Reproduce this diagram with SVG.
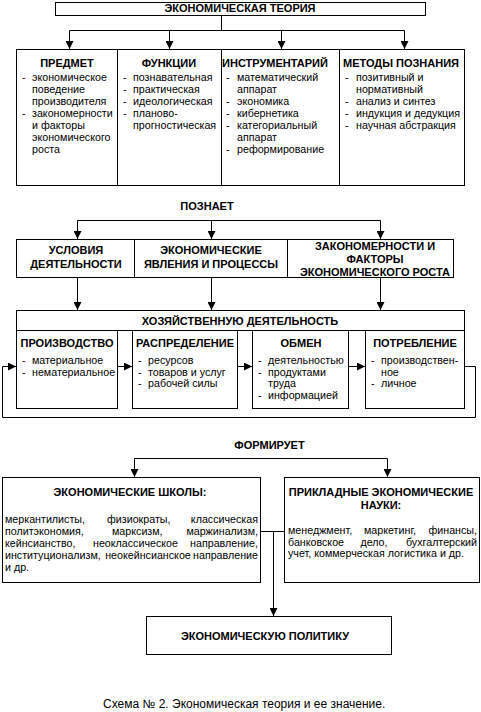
<svg xmlns="http://www.w3.org/2000/svg" width="481" height="712" viewBox="0 0 481 712">
<style>
  .box { fill: #fff; stroke: #000; stroke-width: 1; }
  .ln { fill: none; stroke: #000; stroke-width: 1; }
  .arr { fill: none; stroke: #000; stroke-width: 1; marker-end: url(#ah); }
  text { font-family: "Liberation Sans", Arial, sans-serif; font-size: 10.7px; fill: #000; }
  .h { font-weight: bold; font-size: 11px; text-anchor: middle; }
  .r { text-anchor: end; }
  .m { text-anchor: middle; }
  .cap { font-size: 12px; }
</style>
<defs>
  <marker id="ah" viewBox="0 0 8 8" refX="8" refY="4" markerWidth="8" markerHeight="8" markerUnits="userSpaceOnUse" orient="auto">
    <path d="M0,0 L8,4 L0,8 z" fill="#000"/>
  </marker>
</defs>
<rect width="481" height="712" fill="#fff"/>

<g id="connectors">
  <path class="ln" d="M221.5 15.5 V30.5 M69.5 30.5 H404.5"/>
  <path class="arr" d="M69.5 30.5 V49"/>
  <path class="arr" d="M169.5 30.5 V49"/>
  <path class="arr" d="M281.5 30.5 V49"/>
  <path class="arr" d="M404.5 30.5 V49"/>
  <path class="ln" d="M77.5 220.5 H380.5"/>
  <path class="arr" d="M77.5 220.5 V239"/>
  <path class="arr" d="M211.5 220.5 V239"/>
  <path class="arr" d="M380.5 220.5 V239"/>
  <path class="arr" d="M77.5 277.5 V310"/>
  <path class="arr" d="M211.5 277.5 V310"/>
  <path class="arr" d="M380.5 277.5 V310"/>
  <path class="arr" d="M117.5 366.5 H132"/>
  <path class="arr" d="M237.5 366.5 H252"/>
  <path class="arr" d="M348.5 366.5 H365"/>
  <path class="arr" d="M464.5 366.5 H475.5 V417.5 H2.5 V366.5 H16"/>
  <path class="ln" d="M134.5 458.5 H387.5"/>
  <path class="arr" d="M134.5 458.5 V477"/>
  <path class="arr" d="M387.5 458.5 V477"/>
  <path class="ln" d="M260.5 531.5 H284.5"/>
  <path class="arr" d="M273.5 531.5 V616"/>
</g>

<g id="theory">
  <rect class="box" x="55.5" y="2.5" width="370" height="13"/>
  <text class="h" x="240" y="12">ЭКОНОМИЧЕСКАЯ ТЕОРИЯ</text>
</g>

<g id="row1">
  <rect class="box" x="16.5" y="49.5" width="448" height="136"/>
  <path class="ln" d="M117.5 49.5 V185.5 M221.5 49.5 V185.5 M339.5 49.5 V185.5"/>
</g>
<g id="predmet">
  <text class="h" x="67" y="67">ПРЕДМЕТ</text>
  <text x="22" y="81">-</text><text x="32" y="81">экономическое</text>
  <text x="32" y="93">поведение</text>
  <text x="32" y="105">производителя</text>
  <text x="22" y="117">-</text><text x="32" y="117">закономерности</text>
  <text x="32" y="129">и факторы</text>
  <text x="32" y="141">экономического</text>
  <text x="32" y="153">роста</text>
</g>
<g id="funkcii">
  <text class="h" x="169" y="67">ФУНКЦИИ</text>
  <text x="123" y="81">-</text><text x="133" y="81">познавательная</text>
  <text x="123" y="93">-</text><text x="133" y="93">практическая</text>
  <text x="123" y="105">-</text><text x="133" y="105">идеологическая</text>
  <text x="123" y="117">-</text><text x="133" y="117">планово-</text>
  <text x="133" y="129">прогностическая</text>
</g>
<g id="instrumentariy">
  <text class="h" x="275" y="67">ИНСТРУМЕНТАРИЙ</text>
  <text x="226" y="81">-</text><text x="237" y="81">математический</text>
  <text x="237" y="93">аппарат</text>
  <text x="226" y="105">-</text><text x="237" y="105">экономика</text>
  <text x="226" y="117">-</text><text x="237" y="117">кибернетика</text>
  <text x="226" y="129">-</text><text x="237" y="129">категориальный</text>
  <text x="237" y="141">аппарат</text>
  <text x="226" y="153">-</text><text x="237" y="153">реформирование</text>
</g>
<g id="metody">
  <text class="h" x="401" y="67">МЕТОДЫ ПОЗНАНИЯ</text>
  <text x="345" y="81">-</text><text x="356" y="81">позитивный и</text>
  <text x="356" y="93">нормативный</text>
  <text x="345" y="105">-</text><text x="356" y="105">анализ и синтез</text>
  <text x="345" y="117">-</text><text x="356" y="117">индукция и дедукция</text>
  <text x="345" y="129">-</text><text x="356" y="129">научная абстракция</text>
</g>

<g id="poznaet">
  <text class="h" x="207" y="209.5">ПОЗНАЕТ</text>
</g>

<g id="row2">
  <rect class="box" x="16.5" y="239.5" width="437" height="38"/>
  <path class="ln" d="M134.5 239.5 V277.5 M287.5 239.5 V277.5"/>
</g>
<g id="usloviya">
  <text class="h" x="76" y="254">УСЛОВИЯ</text>
  <text class="h" x="76" y="268">ДЕЯТЕЛЬНОСТИ</text>
</g>
<g id="yavleniya">
  <text class="h" x="211" y="254">ЭКОНОМИЧЕСКИЕ</text>
  <text class="h" x="211" y="268">ЯВЛЕНИЯ И ПРОЦЕССЫ</text>
</g>
<g id="zakonomernosti">
  <text class="h" x="375" y="250">ЗАКОНОМЕРНОСТИ И</text>
  <text class="h" x="375" y="263">ФАКТОРЫ</text>
  <text class="h" x="375" y="276">ЭКОНОМИЧЕСКОГО РОСТА</text>
</g>

<g id="hozyaystvo">
  <rect class="box" x="16.5" y="310.5" width="448" height="20"/>
  <text class="h" x="240" y="325">ХОЗЯЙСТВЕННУЮ ДЕЯТЕЛЬНОСТЬ</text>
</g>
<g id="proizvodstvo">
  <rect class="box" x="16.5" y="330.5" width="101" height="78"/>
  <text class="h" x="67" y="347">ПРОИЗВОДСТВО</text>
  <text x="22" y="364">-</text><text x="32" y="364">материальное</text>
  <text x="22" y="375.5">-</text><text x="32" y="375.5">нематериальное</text>
</g>
<g id="raspredelenie">
  <rect class="box" x="132.5" y="330.5" width="105" height="78"/>
  <text class="h" x="185" y="347">РАСПРЕДЕЛЕНИЕ</text>
  <text x="138" y="364">-</text><text x="148" y="364">ресурсов</text>
  <text x="138" y="375.5">-</text><text x="148" y="375.5">товаров и услуг</text>
  <text x="138" y="387">-</text><text x="148" y="387">рабочей силы</text>
</g>
<g id="obmen">
  <rect class="box" x="252.5" y="330.5" width="96" height="78"/>
  <text class="h" x="301" y="347">ОБМЕН</text>
  <text x="258" y="364">-</text><text x="268" y="364">деятельностью</text>
  <text x="258" y="375.5">-</text><text x="268" y="375.5">продуктами</text>
  <text x="268" y="387">труда</text>
  <text x="258" y="398.5">-</text><text x="268" y="398.5">информацией</text>
</g>
<g id="potreblenie">
  <rect class="box" x="365.5" y="330.5" width="99" height="78"/>
  <text class="h" x="415" y="347">ПОТРЕБЛЕНИЕ</text>
  <text x="371" y="364">-</text><text x="381" y="364">производствен-</text>
  <text x="381" y="375.5">ное</text>
  <text x="371" y="387">-</text><text x="381" y="387">личное</text>
</g>

<g id="formiruet">
  <text class="h" x="269.5" y="449">ФОРМИРУЕТ</text>
</g>

<g id="shkoly">
  <rect class="box" x="2.5" y="477.5" width="258" height="105"/>
  <text class="h" x="130" y="496">ЭКОНОМИЧЕСКИЕ ШКОЛЫ:</text>
  <text x="5" y="523">меркантилисты,</text><text x="107" y="523">физиократы,</text><text class="r" x="258" y="523">классическая</text>
  <text x="5" y="535">политэкономия,</text><text x="112" y="535">марксизм,</text><text class="r" x="258" y="535">маржинализм,</text>
  <text x="5" y="547">кейнсианство,</text><text x="93" y="547">неоклассическое</text><text class="r" x="258" y="547">направление,</text>
  <text x="5" y="559">институционализм,</text><text class="m" x="148" y="559">неокейнсианское</text><text class="r" x="258" y="559">направление</text>
  <text x="5" y="571">и др.</text>
</g>

<g id="prikladnye">
  <rect class="box" x="284.5" y="477.5" width="195" height="105"/>
  <text class="h" x="381" y="496">ПРИКЛАДНЫЕ ЭКОНОМИЧЕСКИЕ</text>
  <text class="h" x="381" y="509">НАУКИ:</text>
  <text x="288" y="534">менеджмент,</text><text x="364" y="534">маркетинг,</text><text class="r" x="477" y="534">финансы,</text>
  <text x="288" y="545.5">банковское</text><text class="m" x="374" y="545.5">дело,</text><text class="r" x="477" y="545.5">бухгалтерский</text>
  <text x="288" y="557">учет, коммерческая логистика и др.</text>
</g>

<g id="politika">
  <rect class="box" x="146.5" y="616.5" width="245" height="38"/>
  <text class="h" x="265" y="640">ЭКОНОМИЧЕСКУЮ ПОЛИТИКУ</text>
</g>

<text class="cap" x="103" y="708">Схема № 2. Экономическая теория и ее значение.</text>
</svg>
